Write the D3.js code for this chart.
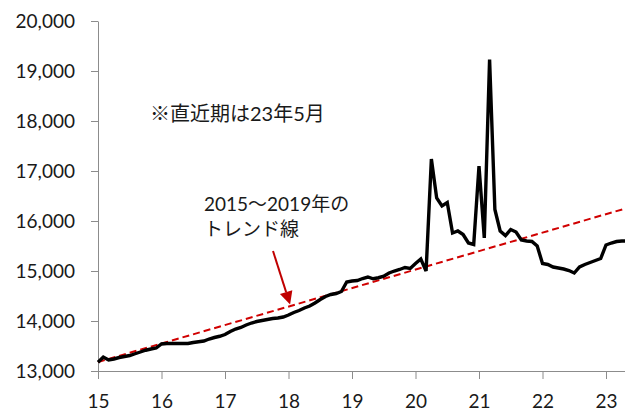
<!DOCTYPE html>
<html><head><meta charset="utf-8">
<script src="https://cdn.jsdelivr.net/npm/d3@7"></script>
<style>
html,body{margin:0;padding:0;background:#fff;}
svg{display:block;}
text{font-family:Lato,"Noto Sans CJK JP",sans-serif;fill:#1a1a1a;}
</style></head>
<body>
<svg id="c" width="625" height="412"></svg>
<script>
// Monthly values, Jan 2015 .. May 2023
const values2015 = [13175,13280,13220,13240,13270,13290,13310,13345,13380,13415,13440,13460];
const values2016 = [13540,13550,13550,13550,13550,13550,13570,13585,13600,13640,13670,13695];
const values2017 = [13730,13790,13840,13870,13920,13960,13990,14010,14030,14050,14060,14080];
const values2018 = [14120,14170,14210,14260,14300,14360,14430,14490,14530,14550,14590,14780];
const values2019 = [14800,14810,14850,14880,14845,14865,14895,14960,15000,15030,15070,15050];
const values2020 = [15150,15240,15000,17240,16460,16300,16370,15760,15800,15730,15560,15530];
const values2021 = [17100,15660,19230,16230,15800,15710,15830,15780,15620,15600,15590,15500];
const values2022 = [15150,15130,15080,15060,15040,15010,14960,15080,15130,15170,15210,15250];
const values2023 = [15520,15560,15590,15600,15600];
// Trend line (2015-2019 trend) endpoints: [month index, value]
const trendPoints = [[0,13180],[100,16260]];
// Axis ticks
const xTickMonths = [0,12,24,36,48,60,72,84,96];
const xTickLabels = ["15","16","17","18","19","20","21","22","23"];
const yTicks = [13000,14000,15000,16000,17000,18000,19000,20000];
const noteText = "※直近期は23年5月";
const trendLabel = ["2015～2019年の","トレンド線"];

const series = [].concat(values2015,values2016,values2017,values2018,values2019,values2020,values2021,values2022,values2023);

const svg = d3.select("#c");
const x = d3.scaleLinear().domain([0,96]).range([98,606]);
const y = d3.scaleLinear().domain([13000,20000]).range([371,21]);
const axisColor = "#8c8c8c";

// Y axis
const ya = svg.append("g").attr("transform","translate(98,0)")
  .call(d3.axisLeft(y).tickValues(yTicks).tickSize(7).tickSizeOuter(0).tickPadding(16).tickFormat(d3.format(",")));
ya.select(".domain").attr("stroke",axisColor);
ya.selectAll(".tick line").attr("stroke",axisColor);
ya.selectAll("text").attr("font-size",19).attr("font-family","Lato,sans-serif").attr("fill","#1a1a1a");

// X axis
const xa = svg.append("g").attr("transform","translate(0,371)")
  .call(d3.axisBottom(x).tickValues(xTickMonths).tickSize(8).tickSizeOuter(0)
    .tickFormat((d,i)=>xTickLabels[i]));
xa.select(".domain").attr("stroke",axisColor).attr("d","M98.5,0.5H625");
xa.selectAll(".tick line").attr("stroke",axisColor);
xa.selectAll("text").attr("font-size",19).attr("font-family","Lato,sans-serif").attr("fill","#1a1a1a")
  .attr("dy",null).attr("y",37);

// Trend line
svg.append("path")
  .attr("d", d3.line().x(d=>x(d[0])).y(d=>y(d[1]))(trendPoints))
  .attr("fill","none").attr("stroke","#d00000").attr("stroke-width",2)
  .attr("stroke-dasharray","7,4");

// Data line
svg.append("path")
  .attr("d", d3.line().x((d,i)=>x(i)).y(d=>y(d))(series))
  .attr("fill","none").attr("stroke","#000").attr("stroke-width",3.4)
  .attr("stroke-linejoin","miter").attr("stroke-miterlimit",4);

// Note
svg.append("text").attr("x",150).attr("y",121).attr("font-size",20).text(noteText);

// Trend label
svg.append("text").attr("x",204).attr("y",211).attr("font-size",19).text(trendLabel[0]);
svg.append("text").attr("x",204).attr("y",236).attr("font-size",19).text(trendLabel[1]);

// Arrow
const tip = [x(36.3), y(14330)];
const start = [273, 251];
const ang = Math.atan2(tip[1]-start[1], tip[0]-start[0]);
const hl = 13, hw = 6.5;
const base = [tip[0]-hl*Math.cos(ang), tip[1]-hl*Math.sin(ang)];
svg.append("line").attr("x1",start[0]).attr("y1",start[1]).attr("x2",base[0]).attr("y2",base[1])
  .attr("stroke","#c00000").attr("stroke-width",2);
svg.append("path").attr("d", d3.line()([
  tip,
  [base[0]+hw*Math.sin(ang), base[1]-hw*Math.cos(ang)],
  [base[0]-hw*Math.sin(ang), base[1]+hw*Math.cos(ang)]
]) + "Z").attr("fill","#c00000");
</script>
</body></html>
